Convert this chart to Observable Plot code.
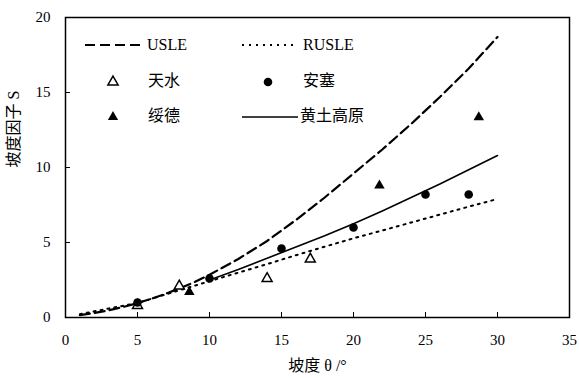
<!DOCTYPE html>
<html><head><meta charset="utf-8">
<script src="https://cdn.jsdelivr.net/npm/d3@7"></script>
<script src="https://cdn.jsdelivr.net/npm/@observablehq/plot@0.6"></script>
<style>
body{margin:0;background:#fff;}
#wrap{position:relative;width:579px;height:378px;}
#legend{position:absolute;left:0;top:0;pointer-events:none;}
</style></head><body><div id="wrap"></div>
<script>
// Slope angles (degrees) and slope factor S
const curveX = [1,2,3,4,5,6,7,8,9,10,12,14,16,18,20,22,24,26,28,30];
const usleS  = [0.16,0.30,0.48,0.70,0.96,1.26,1.6,1.97,2.38,2.85,3.9,5.1,6.5,8.0,9.6,11.2,12.9,14.7,16.6,18.7];
const rusleS = [0.22,0.41,0.6,0.78,0.97,1.26,1.55,1.84,2.13,2.42,2.99,3.56,4.15,4.72,5.28,5.8,6.33,6.86,7.39,7.9];
const loessX = [10,12,14,16,18,20,22,24,26,28,30];
const loessS = [2.5,3.2,3.95,4.7,5.45,6.25,7.1,8.0,8.9,9.85,10.8];
const tianshuiX = [5,7.9,14,17];
const tianshuiS = [0.8,2.1,2.6,3.9];
const ansaiX = [5,10,15,20,25,28];
const ansaiS = [1.0,2.6,4.6,6.0,8.2,8.2];
const suideX = [8.6,21.8,28.7];
const suideS = [1.7,8.8,13.35];
const xTicks = [0,5,10,15,20,25,30,35];
const yTicks = [0,5,10,15,20];
const legendLabels = ["USLE","RUSLE","天水","安塞","绥德","黄土高原"];
const xLabel = "坡度 θ /°";
const yLabel = "坡度因子 S";

const FONT = '"Liberation Serif","Noto Sans CJK SC",serif';
const pts = (xs, ys) => xs.map((x, i) => ({x, y: ys[i]}));

const plot = Plot.plot({
  width: 579, height: 378,
  marginLeft: 65, marginRight: 10, marginTop: 17, marginBottom: 61,
  x: {domain: [0, 35]},
  y: {domain: [0, 20]},
  style: {fontFamily: FONT, fontSize: "15px", color: "#000", background: "#fff"},
  marks: [
    Plot.line(pts(curveX, usleS), {x: "x", y: "y", stroke: "#000", strokeWidth: 2.2, strokeDasharray: "10,5"}),
    Plot.line(pts(curveX, rusleS), {x: "x", y: "y", stroke: "#000", strokeWidth: 2, strokeDasharray: "2,5"}),
    Plot.line(pts(loessX, loessS), {x: "x", y: "y", stroke: "#000", strokeWidth: 1.6}),
    Plot.dot(pts(tianshuiX, tianshuiS), {x: "x", y: "y", symbol: "triangle", r: 3.7, fill: "#fff", stroke: "#000", strokeWidth: 1.5}),
    Plot.dot(pts(ansaiX, ansaiS), {x: "x", y: "y", symbol: "circle", r: 4.3, fill: "#000", stroke: "none"}),
    Plot.dot(pts(suideX, suideS), {x: "x", y: "y", symbol: "triangle", r: 3.9, fill: "#000", stroke: "none"}),
    Plot.frame({stroke: "#000", strokeWidth: 1.5}),
    Plot.axisX(xTicks, {tickSize: -5, tickPadding: 22, label: null, fontSize: 15}),
    Plot.axisY(yTicks, {tickSize: -5, tickPadding: 20, label: null, fontSize: 15}),
    Plot.text([xLabel], {frameAnchor: "bottom", dy: 53, fontSize: 16}),
    Plot.text([yLabel], {frameAnchor: "left", dx: -52, rotate: -90, fontSize: 16})
  ]
});
const wrap = document.getElementById("wrap");
wrap.appendChild(plot);

// Legend overlay
const svg = d3.select(wrap).append("svg").attr("id", "legend")
  .attr("width", 579).attr("height", 378)
  .style("font-family", FONT).style("font-size", "16px");
function line(x1, x2, y, dash, w) {
  svg.append("line").attr("x1", x1).attr("x2", x2).attr("y1", y).attr("y2", y)
    .attr("stroke", "#000").attr("stroke-width", w).attr("stroke-dasharray", dash);
}
function label(x, y, t) {
  svg.append("text").attr("x", x).attr("y", y).attr("dominant-baseline", "middle").text(t);
}
const tri = d3.symbol(d3.symbolTriangle, 3.8 * 3.8 * Math.PI)();
line(85, 143, 45, "10,5", 2.2); label(147, 46, legendLabels[0]);
line(242, 295, 45, "2,5", 2); label(303, 46, legendLabels[1]);
svg.append("path").attr("d", tri).attr("transform", "translate(113,82)").attr("fill", "#fff").attr("stroke", "#000").attr("stroke-width", 1.5);
label(148, 82, legendLabels[2]);
svg.append("circle").attr("cx", 268).attr("cy", 82).attr("r", 4.3).attr("fill", "#000");
label(303, 82, legendLabels[3]);
svg.append("path").attr("d", tri).attr("transform", "translate(113,117)").attr("fill", "#000");
label(148, 117, legendLabels[4]);
line(242, 298, 117, null, 1.6); label(300, 117, legendLabels[5]);
</script></body></html>
